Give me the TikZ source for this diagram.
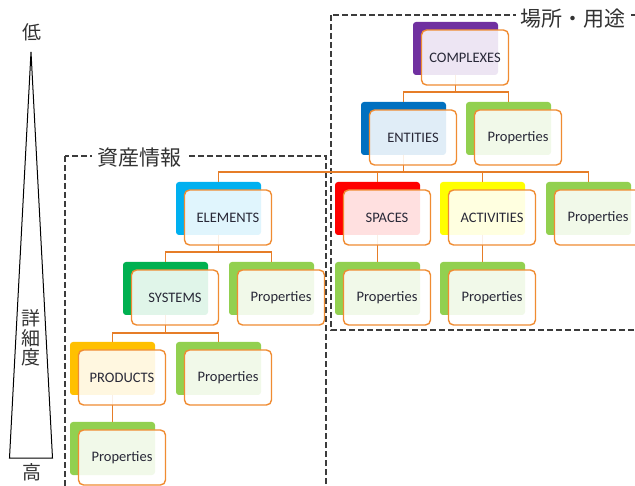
\documentclass[tikz,border=0pt]{standalone}
\usepackage{fontspec}
\setmainfont{Carlito}
\newfontfamily\jp{Noto Sans CJK JP}
\definecolor{cpurple}{RGB}{112,48,160}
\definecolor{cblue}{RGB}{0,112,192}
\definecolor{clblue}{RGB}{0,176,240}
\definecolor{cdgreen}{RGB}{0,176,80}
\definecolor{cgreen}{RGB}{146,208,80}
\definecolor{cred}{RGB}{255,0,0}
\definecolor{cyellow}{RGB}{255,255,0}
\definecolor{camber}{RGB}{255,192,0}
\definecolor{orangeline}{RGB}{240,140,50}
\definecolor{connline}{RGB}{230,125,40}
\definecolor{txt}{RGB}{40,40,55}
\definecolor{dashc}{RGB}{60,60,60}
\definecolor{tagc}{RGB}{50,50,50}
\begin{document}
\begin{tikzpicture}[x=1pt,y=-1pt,
 back/.style={draw=none, fill=#1, rounded corners=3pt, minimum width=85pt, minimum height=53pt, inner sep=0pt, outer sep=0pt, anchor=north west},
 front/.style={draw=orangeline, line width=1.4pt, fill=white, fill opacity=0.88, text opacity=1, draw opacity=1, rounded corners=5pt, minimum width=87pt, minimum height=55pt, inner sep=0pt, outer sep=0pt, anchor=north west, font=\fontsize{14.5}{16}\selectfont, text=txt},
 conn/.style={draw=connline, line width=1.3pt},
 region/.style={draw=dashc, line width=1.1pt, dash pattern=on 6pt off 3pt},
 tag/.style={fill=white, font=\jp\fontsize{21}{24}\selectfont, text=tagc, inner xsep=5pt, inner ysep=1pt},
 scale label/.style={font=\jp\fontsize{19}{19.5}\selectfont, text=tagc, inner sep=0pt, align=center}
]
\useasboundingbox (0,0) rectangle (635,486);
\clip (0,0) rectangle (635,486);
% regions
\draw[region] (331,15) rectangle (650,330);
\draw[region] (65,156) rectangle (326,500);
\node[tag] (tagplace) at (573,19) {場所・用途};
\node[tag] (tagasset) at (139,158) {資産情報};
% scale triangle
\draw[line width=1pt] (31,52) -- (9.5,458) -- (52.5,458) -- cycle;
\node[scale label] (low) at (32,32) {低};
\node[scale label] (high) at (32,472) {高};
\node[scale label] (detail) at (31,338) {詳\\細\\度};
% back boxes
\node[back=cpurple] (ccx) at (413,22) {};
\node[back=cblue] (cent) at (361,102) {};
\node[back=cgreen] (cp1) at (466,102) {};
\node[back=clblue] (cele) at (176,182) {};
\node[back=cred] (cspa) at (335,182) {};
\node[back=cyellow] (cact) at (440,182) {};
\node[back=cgreen] (cp2) at (546,182) {};
\node[back=cdgreen] (csys) at (123,262) {};
\node[back=cgreen] (cp3) at (229,262) {};
\node[back=cgreen] (cp4) at (335,262) {};
\node[back=cgreen] (cp5) at (440,262) {};
\node[back=camber] (cpro) at (70,342) {};
\node[back=cgreen] (cp6) at (176,342) {};
\node[back=cgreen] (cp7) at (70,422) {};
% connectors
\draw[conn] (ccx.south) -- ++(0,17) -| (cent.north);
\draw[conn] (ccx.south) -- ++(0,17) -| (cp1.north);
\draw[conn] (cent.south) -- ++(0,17) -| (cele.north);
\draw[conn] (cent.south) -- ++(0,17) -| (cspa.north);
\draw[conn] (cent.south) -- ++(0,17) -| (cact.north);
\draw[conn] (cent.south) -- ++(0,17) -| (cp2.north);
\draw[conn] (cele.south) -- ++(0,17) -| (csys.north);
\draw[conn] (cele.south) -- ++(0,17) -| (cp3.north);
\draw[conn] (cspa.south) -- (cp4.north);
\draw[conn] (cact.south) -- (cp5.north);
\draw[conn] (csys.south) -- ++(0,18) -| (cpro.north);
\draw[conn] (csys.south) -- ++(0,18) -| (cp6.north);
\draw[conn] (cpro.south) -- (cp7.north);
% front boxes
\node[front] (fcx) at (421.5,30) {COMPLEXES};
\node[front] (fent) at (369.5,110) {ENTITIES};
\node[front] (fp1) at (474.5,110) {Properties};
\node[front] (fele) at (184.5,190) {ELEMENTS};
\node[front] (fspa) at (343.5,190) {SPACES};
\node[front] (fact) at (448.5,190) {ACTIVITIES};
\node[front] (fp2) at (554.5,190) {Properties};
\node[front] (fsys) at (131.5,270) {SYSTEMS};
\node[front] (fp3) at (237.5,270) {Properties};
\node[front] (fp4) at (343.5,270) {Properties};
\node[front] (fp5) at (448.5,270) {Properties};
\node[front] (fpro) at (78.5,350) {PRODUCTS};
\node[front] (fp6) at (184.5,350) {Properties};
\node[front] (fp7) at (78.5,430) {Properties};
\end{tikzpicture}
\end{document}
